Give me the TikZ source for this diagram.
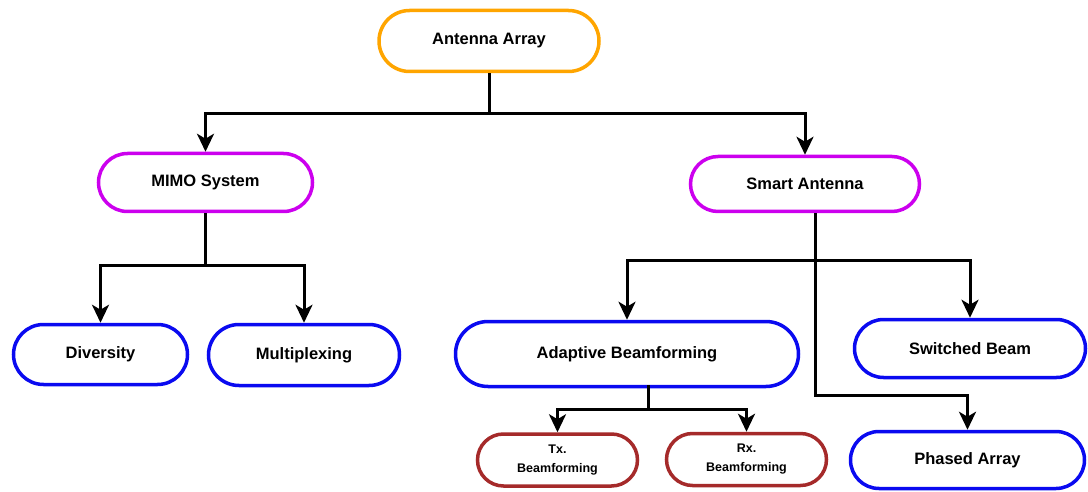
\documentclass[tikz,border=0pt]{standalone}
\usepackage{fontspec}
\setmainfont{Liberation Sans}
\usetikzlibrary{shapes.misc,arrows.meta}
\definecolor{topc}{RGB}{255,165,0}
\definecolor{midc}{RGB}{204,0,238}
\definecolor{leafc}{RGB}{10,10,240}
\definecolor{subc}{RGB}{165,42,42}
\tikzset{
  pill/.style={rounded rectangle, draw, line width=3.5pt, fill=white, inner sep=0pt,
    align=center, font=\bfseries\fontsize{16.5}{19}\selectfont},
  small/.style={font=\bfseries\fontsize{12.5}{19}\selectfont},
  link/.style={line width=3pt, black},
  arr/.style={link, -{Stealth[length=18pt,width=17pt,inset=5pt]}}
}
\begin{document}
\begin{tikzpicture}[x=1pt,y=-1pt]
\useasboundingbox (0,0) rectangle (1088,492);
% boxes
\node[pill, draw=topc, minimum width=220, minimum height=61] (aa) at (489,41) {Antenna Array};
\node[pill, draw=midc, minimum width=214, minimum height=58] (mimo) at (205.5,182.5) {MIMO System};
\node[pill, draw=midc, minimum width=229, minimum height=55] (smart) at (805,184) {Smart Antenna};
\node[pill, draw=leafc, minimum width=174, minimum height=60] (div) at (100.5,354.5) {Diversity};
\node[pill, draw=leafc, minimum width=191, minimum height=61] (mux) at (304,355) {Multiplexing};
\node[pill, draw=leafc, minimum width=343, minimum height=65] (adapt) at (627,354) {Adaptive Beamforming};
\node[pill, draw=leafc, minimum width=231, minimum height=58] (sw) at (970,348.5) {Switched Beam};
\node[pill, draw=leafc, minimum width=234, minimum height=57] (ph) at (967.5,460) {Phased Array};
\node[pill, small, draw=subc, minimum width=160, minimum height=52] (tx) at (557.5,460) {Tx.\\Beamforming};
\node[pill, small, draw=subc, minimum width=160, minimum height=52] (rx) at (746.5,459.5) {Rx.\\Beamforming};
% Antenna Array branches
\coordinate (j1) at ([yshift=-40pt]aa.south);
\draw[link] (aa.south) -- (j1);
\draw[arr] (j1) -| (mimo.north);
\draw[arr] (j1) -| (smart.north);
% MIMO branches
\coordinate (j2) at ([yshift=-52pt]mimo.south);
\draw[link] (mimo.south) -- (j2);
\draw[arr] (j2) -| (div.north);
\draw[arr] (j2) -| (mux.north);
% Smart Antenna branches
\coordinate (s0) at ([xshift=10pt]smart.south);
\coordinate (j3) at ([yshift=-47pt]s0);
\draw[arr] (s0) |- ([yshift=34pt]ph.north) -- (ph.north);
\draw[arr] (j3) -| (adapt.north);
\draw[arr] (j3) -| (sw.north);
% Adaptive Beamforming branches
\coordinate (a0) at ([xshift=21pt,yshift=3pt]adapt.south);
\coordinate (j4) at ([yshift=-24pt]a0);
\draw[link] (a0) -- (j4);
\draw[arr] (j4) -| (tx.north);
\draw[arr] (j4) -| (rx.north);
\end{tikzpicture}
\end{document}
